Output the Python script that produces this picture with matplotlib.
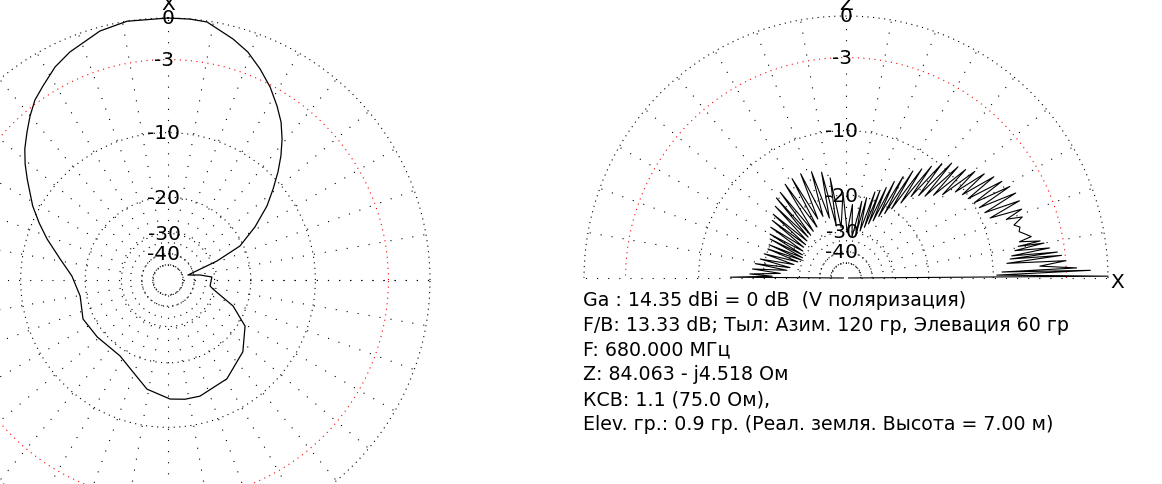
import numpy as np
import matplotlib.pyplot as plt

plt.rcParams['font.family'] = ['DejaVu Sans']

# azimuth pattern (left): azimuth, deg clockwise from X (up) / level, dB
az_deg = [0, 4.8, 8.6, 15.1, 19.3, 23.6, 27.9, 32.1, 35.6, 39.0, 42.3, 45.5,
          49.1, 53.2, 58.6, 64.7, 68.8, 76.0, 81.1, 86.1, 98.1, 101.3, 111.8,
          120.9, 133.8, 149.2, 164.6, 171.9, 179.0, 190.9, 200.8, 212.3,
          231.2, 245.4, 259.7, 272.4, 281.0, 288.7, 293.8, 298.7, 305.6,
          309.1, 312.5, 316.4, 319.9, 323.5, 327.2, 332.1, 336.7, 344.7,
          351.0, 360.0]
az_db = [0, -0.01, -0.07, -0.84, -1.41, -2.25, -3.17, -4.24, -5.2, -6.4,
         -7.74, -9.21, -11.0, -13.05, -16.4, -20.7, -27.9, -44.2, -36.3,
         -31.0, -31.6, -30.3, -22.9, -18.6, -16.1, -14.3, -13.5, -13.5,
         -13.7, -14.9, -17.0, -18.6, -18.4, -17.9, -18.7, -17.4, -15.1,
         -12.5, -10.8, -9.2, -7.2, -6.13, -5.2, -4.31, -3.5, -2.74, -2.2,
         -1.44, -0.94, -0.26, 0.0, 0.0]

# elevation pattern (right): elevation, deg from X / level, dB
el_deg = [0.0, 0.4, 1.1, 1.8, 2.2, 2.5, 3.5, 4.5, 5.2, 6.0, 6.6, 7.0, 7.6,
          8.4, 9.2, 10.0, 10.4, 10.8, 11.8, 12.6, 13.8, 15.0, 16.3, 17.5,
          19.1, 20.1, 21.4, 22.6, 24.0, 25.2, 26.6, 27.8, 29.2, 30.4, 31.8,
          33.0, 34.4, 35.6, 37.0, 38.2, 39.6, 40.8, 42.2, 43.4, 44.8, 46.0,
          47.4, 48.6, 50.0, 51.4, 52.6, 53.8, 55.2, 56.6, 58.0, 59.0, 60.6,
          62.0, 63.4, 64.6, 66.0, 67.4, 68.8, 70.0, 71.4, 73.4, 75.6, 77.0,
          78.4, 81.7, 85.0, 88.5, 92.0, 95.5, 99.0, 100.5, 103.0, 105.5,
          108.0, 110.5, 113.5, 115.5, 118.5, 119.6, 123.0, 125.0, 127.5,
          129.5, 131.0, 132.8, 134.6, 136.5, 138.8, 140.5, 142.0, 144.0,
          146.0, 148.0, 150.0, 152.0, 152.8, 155.0, 156.6, 158.0, 159.6,
          161.5, 163.5, 165.5, 167.5, 169.5, 171.0, 172.6, 174.5, 176.0,
          177.6, 178.6, 179.6, 180.0]
el_db = [-80, 0.0, -9.6, -1.2, -9.0, -2.2, -5.2, -3.0, -8.4, -3.3, -8.0,
         -3.6, -7.8, -4.2, -7.4, -4.6, -7.0, -4.9, -6.8, -5.6, -6.1, -6.6,
         -6.4, -6.9, -5.9, -7.4, -5.7, -9.0, -5.6, -9.3, -5.6, -9.6, -5.8,
         -9.8, -6.2, -10.2, -6.6, -10.5, -7.2, -11.0, -7.8, -12.5, -8.4,
         -13.5, -8.8, -14.5, -9.0, -15.1, -9.8, -16.0, -10.8, -18.0, -11.8,
         -20.0, -12.7, -21.7, -14.1, -23.0, -15.4, -24.7, -16.9, -26.0,
         -17.8, -27.5, -18.4, -29.1, -20.0, -29.8, -21.0, -32.0, -22.0,
         -30.5, -19.4, -28.5, -16.5, -27.8, -15.3, -25.0, -14.8, -24.0,
         -14.5, -24.1, -14.6, -26.0, -14.8, -26.5, -15.4, -27.0, -15.7,
         -26.9, -16.6, -27.5, -17.3, -28.0, -17.9, -28.0, -18.4, -28.5,
         -19.0, -29.0, -19.5, -29.5, -19.8, -29.5, -19.9, -28.5, -19.5,
         -27.5, -19.0, -26.5, -18.2, -25.7, -17.8, -24.0, -17.4, -22.0,
         -14.2, -80]

ring_db = [0, -3, -10, -20, -30, -40, -50]
ring_lbl = ['0', '-3', '-10', '-20', '-30', '-40']

info = [
    "Ga : 14.35 dBi = 0 dB  (V поляризация)",
    "F/B: 13.33 dB; Тыл: Азим. 120 гр, Элевация 60 гр",
    "F: 680.000 МГц",
    "Z: 84.063 - j4.518 Ом",
    "КСВ: 1.1 (75.0 Ом),",
    "Elev. гр.: 0.9 гр. (Реал. земля. Высота = 7.00 м)",
]

R = 262


def rad(db):
    # MMANA style radial scale
    return R * 10 ** (np.asarray(db, dtype=float) / 40)


def draw_grid(ax, cx, cy, a0, a1):
    t = np.radians(np.linspace(a0, a1, 720))
    for db in ring_db:
        r = rad(db)
        col = 'red' if db == -3 else 'black'
        ax.plot(cx + r * np.cos(t), cy - r * np.sin(t), color=col,
                lw=0.8, ls=(0, (1, 4)))
    r_in = rad(-50)
    for a in range(a0, a1 + 1, 10):
        a = np.radians(a)
        ax.plot([cx + r_in * np.cos(a), cx + R * np.cos(a)],
                [cy - r_in * np.sin(a), cy - R * np.sin(a)],
                color='black', lw=0.8, ls=(0, (1, 9)))
    for db, s in zip(ring_db, ring_lbl):
        dx = -4 if s.startswith('-') else 0
        ax.text(cx + dx, cy - rad(db), s, ha='center', va='center',
                fontsize=14.5, color='black')


fig = plt.figure(figsize=(11.62, 4.85), dpi=100)
ax = fig.add_axes([0, 0, 1, 1])
ax.set_xlim(0, 1162)
ax.set_ylim(485, 0)
ax.axis('off')

# left: azimuth
cx1, cy1 = 168, 281
draw_grid(ax, cx1, cy1, 0, 360)
a = np.radians(az_deg)
r = rad(az_db)
ax.plot(cx1 + r * np.sin(a), cy1 - r * np.cos(a), color='black', lw=0.9)
ax.text(cx1, 5, 'X', ha='center', va='center', fontsize=14.5)

# right: elevation
cx2, cy2 = 846, 279
draw_grid(ax, cx2, cy2, 0, 180)
e = np.radians(el_deg)
r = rad(el_db)
ax.plot(cx2 + r * np.cos(e), cy2 - r * np.sin(e), color='black', lw=0.8)
ax.text(cx2, 5, 'Z', ha='center', va='center', fontsize=14.5)
ax.text(1117, 283, 'X', ha='center', va='center', fontsize=14.5)

for i, s in enumerate(info):
    ax.text(583, 306 + 24.8 * i, s, ha='left', va='baseline', fontsize=13.7)

fig.savefig('out.png', dpi=100, facecolor='white')
